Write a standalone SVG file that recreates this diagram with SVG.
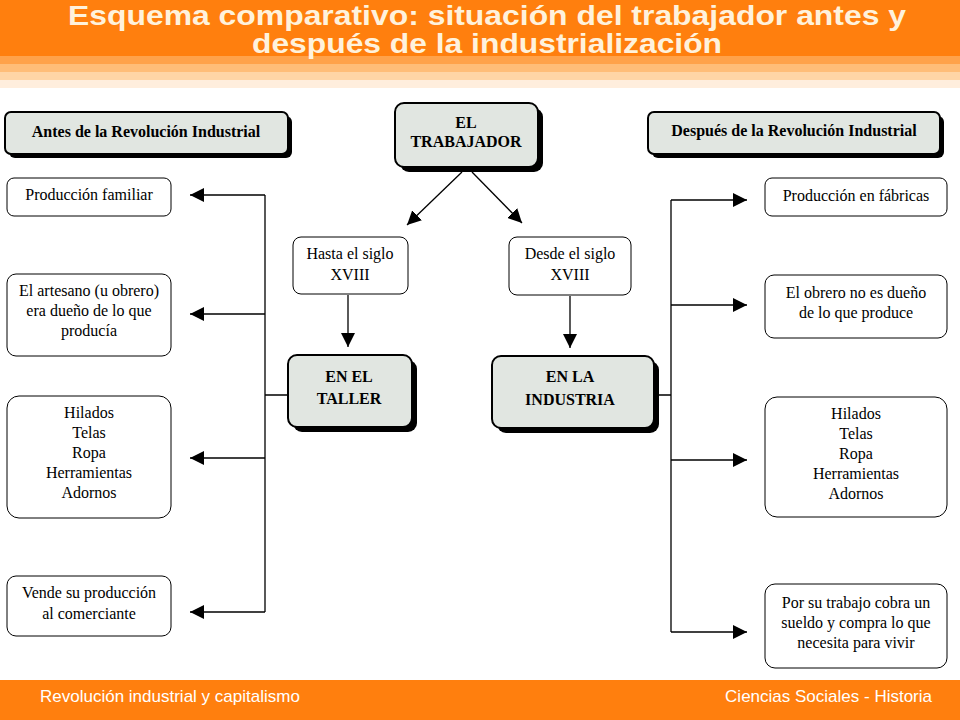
<svg xmlns="http://www.w3.org/2000/svg" width="960" height="720" viewBox="0 0 960 720">
<style>
.t{font-size:16px;fill:#000;text-anchor:middle}
.b{font-weight:bold}
.box{fill:#fff;stroke:#000;stroke-width:1}
.hd{fill:#E1E6E1;stroke:#000;stroke-width:2}
.sh{fill:#000}
.ln{stroke:#000;stroke-width:1.3;fill:none}
</style>
<defs>
<marker id="a2" viewBox="0 0 10 10" refX="10" refY="5" markerWidth="14" markerHeight="14" markerUnits="userSpaceOnUse" orient="auto"><path d="M0,0L10,5L0,10z"/></marker></defs>
<rect width="960" height="720" fill="#fff"/>
<rect x="0" y="0" width="960" height="56" fill="#FF7F0E"/>
<rect x="0" y="56" width="960" height="8" fill="#FFA24A"/>
<rect x="0" y="64" width="960" height="8" fill="#FFBD78"/>
<rect x="0" y="72" width="960" height="8" fill="#FFD5A6"/>
<rect x="0" y="80" width="960" height="8" fill="#FFEEDD"/>
<g font-family="Liberation Sans,Arial,sans-serif" font-weight="bold" font-size="28" fill="#FFF2DC" text-anchor="middle">
<text x="487" y="25" textLength="838" lengthAdjust="spacingAndGlyphs">Esquema comparativo: situación del trabajador antes y</text>
<text x="487" y="53" textLength="470" lengthAdjust="spacingAndGlyphs">después de la industrialización</text></g>
<rect x="0" y="680" width="960" height="40" fill="#FF7F0E"/>
<g font-family="Liberation Sans,Arial,sans-serif" font-size="17" fill="#fff">
<text x="40" y="702">Revolución industrial y capitalismo</text>
<text x="932" y="702" text-anchor="end">Ciencias Sociales - Historia</text></g>

<g id="connectors">
<path class="ln" d="M265,195V612M265,395H288"/>
<line class="ln" x1="265" y1="195" x2="190" y2="195" marker-end="url(#a2)"/>
<line class="ln" x1="265" y1="314" x2="190" y2="314" marker-end="url(#a2)"/>
<line class="ln" x1="265" y1="458" x2="190" y2="458" marker-end="url(#a2)"/>
<line class="ln" x1="265" y1="612" x2="190" y2="612" marker-end="url(#a2)"/>
<path class="ln" d="M671,200V632M654,395H671"/>
<line class="ln" x1="671" y1="200" x2="747" y2="200" marker-end="url(#a2)"/>
<line class="ln" x1="671" y1="305" x2="747" y2="305" marker-end="url(#a2)"/>
<line class="ln" x1="671" y1="460" x2="747" y2="460" marker-end="url(#a2)"/>
<line class="ln" x1="671" y1="632" x2="747" y2="632" marker-end="url(#a2)"/>
<line class="ln" x1="462" y1="172" x2="407" y2="225" marker-end="url(#a2)"/>
<line class="ln" x1="472" y1="172" x2="522" y2="223" marker-end="url(#a2)"/>
<line class="ln" x1="348" y1="295" x2="348" y2="347" marker-end="url(#a2)"/>
<line class="ln" x1="570" y1="296" x2="570" y2="348" marker-end="url(#a2)"/>
</g>

<g font-family="Liberation Serif,DejaVu Serif,serif">
<g id="antes"><rect class="sh" x="9" y="116" width="283" height="42" rx="6"/><rect class="hd" x="5" y="112" width="283" height="42" rx="6"/><text class="t b" x="146" y="137" font-size="15">Antes de la Revolución Industrial</text></g>
<g id="despues"><rect class="sh" x="652" y="116" width="292" height="42" rx="6"/><rect class="hd" x="648" y="112" width="292" height="42" rx="6"/><text class="t b" x="794" y="136" font-size="15">Después de la Revolución Industrial</text></g>
<g id="trabajador"><rect class="sh" x="400" y="108" width="143" height="64" rx="9"/><rect class="hd" x="395" y="103" width="143" height="64" rx="9"/><text class="t b" x="466" y="128">EL</text><text class="t b" x="466" y="147">TRABAJADOR</text></g>
<g id="hasta"><rect class="box" x="293" y="237" width="115" height="57" rx="8"/><text class="t" x="350" y="259">Hasta el siglo</text><text class="t" x="350" y="280">XVIII</text></g>
<g id="desde"><rect class="box" x="509" y="237" width="122" height="58" rx="8"/><text class="t" x="570" y="259">Desde el siglo</text><text class="t" x="570" y="280">XVIII</text></g>
<g id="taller"><rect class="sh" x="293" y="360" width="124" height="72" rx="9"/><rect class="hd" x="288" y="355" width="124" height="72" rx="9"/><text class="t b" x="349" y="382" font-size="18">EN EL</text><text class="t b" x="349" y="404" font-size="18">TALLER</text></g>
<g id="industria"><rect class="sh" x="497" y="361" width="162" height="72" rx="9"/><rect class="hd" x="492" y="356" width="162" height="72" rx="9"/><text class="t b" x="570" y="382" font-size="18">EN LA</text><text class="t b" x="570" y="405" font-size="18">INDUSTRIA</text></g>

<g id="l1"><rect class="box" x="7" y="178" width="164" height="38" rx="7"/><text class="t" x="89" y="200">Producción familiar</text></g>
<g id="l2"><rect class="box" x="7" y="274" width="164" height="82" rx="9"/><text class="t" x="89" y="296">El artesano (u obrero)</text><text class="t" x="89" y="316">era dueño de lo que</text><text class="t" x="89" y="336">producía</text></g>
<g id="l3"><rect class="box" x="7" y="396" width="164" height="122" rx="12"/><text class="t" x="89" y="418">Hilados</text><text class="t" x="89" y="438">Telas</text><text class="t" x="89" y="458">Ropa</text><text class="t" x="89" y="478">Herramientas</text><text class="t" x="89" y="498">Adornos</text></g>
<g id="l4"><rect class="box" x="7" y="576" width="164" height="60" rx="9"/><text class="t" x="89" y="598">Vende su producción</text><text class="t" x="89" y="619">al comerciante</text></g>

<g id="r1"><rect class="box" x="765" y="178" width="182" height="38" rx="7"/><text class="t" x="856" y="201">Producción en fábricas</text></g>
<g id="r2"><rect class="box" x="765" y="275" width="182" height="63" rx="9"/><text class="t" x="856" y="298">El obrero no es dueño</text><text class="t" x="856" y="318">de lo que produce</text></g>
<g id="r3"><rect class="box" x="765" y="397" width="182" height="120" rx="12"/><text class="t" x="856" y="419">Hilados</text><text class="t" x="856" y="439">Telas</text><text class="t" x="856" y="459">Ropa</text><text class="t" x="856" y="479">Herramientas</text><text class="t" x="856" y="499">Adornos</text></g>
<g id="r4"><rect class="box" x="765" y="584" width="182" height="84" rx="10"/><text class="t" x="856" y="608">Por su trabajo cobra un</text><text class="t" x="856" y="628">sueldo y compra lo que</text><text class="t" x="856" y="648">necesita para vivir</text></g>
</g>
</svg>
